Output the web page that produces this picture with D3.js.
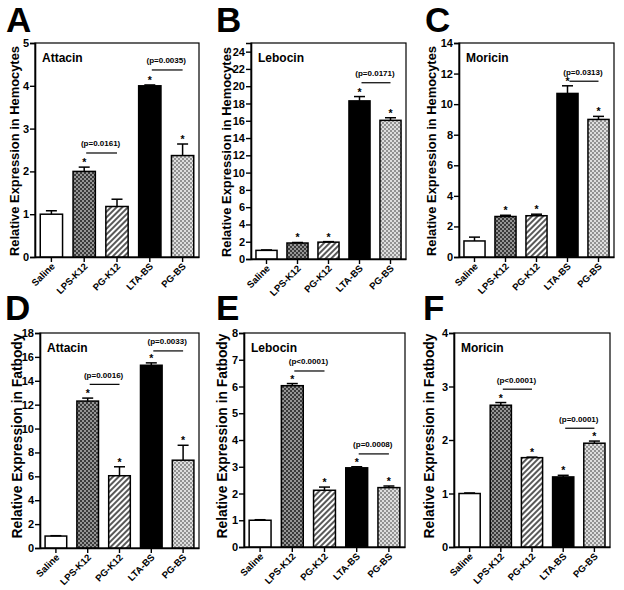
<!DOCTYPE html>
<html><head><meta charset="utf-8">
<script src="https://cdn.jsdelivr.net/npm/d3@7"></script>
<style>
body{margin:0;background:#fff;}
text{font-family:"Liberation Sans",Arial,sans-serif;font-weight:bold;}
</style></head>
<body><svg id="c" width="624" height="590"></svg>
<script>
const categories = ["Saline","LPS-K12","PG-K12","LTA-BS","PG-BS"];

const attacinHemo = [1.0, 2.0, 1.18, 4.0, 2.37];
const attacinHemoErr = [0.08, 0.1, 0.17, 0.02, 0.27];
const lebocinHemo = [1.0, 1.85, 1.95, 18.3, 16.05];
const lebocinHemoErr = [0.05, 0.06, 0.06, 0.5, 0.3];
const moricinHemo = [1.05, 2.65, 2.7, 10.7, 9.0];
const moricinHemoErr = [0.25, 0.08, 0.1, 0.5, 0.2];
const attacinFat = [1.0, 12.3, 6.05, 15.3, 7.35];
const attacinFatErr = [0.03, 0.25, 0.75, 0.2, 1.25];
const lebocinFat = [1.0, 6.03, 2.12, 2.96, 2.22];
const lebocinFatErr = [0.02, 0.08, 0.12, 0.04, 0.06];
const moricinFat = [1.0, 2.65, 1.67, 1.31, 1.94];
const moricinFatErr = [0.01, 0.05, 0.01, 0.03, 0.04];

const starsA = [false,true,false,true,true];
const starsB = [false,true,true,true,true];
const starsC = [false,true,true,true,true];
const starsD = [false,true,true,true,true];
const starsE = [false,true,true,true,true];
const starsF = [false,true,true,true,true];

const bracketsA = [{from:1,to:2,y:2.43,label:"(p=0.0161)"},{from:3,to:4,y:4.37,label:"(p=0.0035)"}];
const bracketsB = [{from:3,to:4,y:20.4,label:"(p=0.0171)"}];
const bracketsC = [{from:3,to:4,y:11.5,label:"(p=0.0313)"}];
const bracketsD = [{from:1,to:2,y:13.7,label:"(p=0.0016)"},{from:3,to:4,y:16.5,label:"(p=0.0033)"}];
const bracketsE = [{from:1,to:2,y:6.58,label:"(p<0.0001)"},{from:3,to:4,y:3.48,label:"(p=0.0008)"}];
const bracketsF = [{from:1,to:2,y:2.95,label:"(p<0.0001)"},{from:3,to:4,y:2.22,label:"(p=0.0001)"}];

const ticksA = [0,1,2,3,4,5];
const ticksB = [0,2,4,6,8,10,12,14,16,18,20,22,24];
const ticksC = [0,2,4,6,8,10,12,14];
const ticksD = [0,2,4,6,8,10,12,14,16,18];
const ticksE = [0,1,2,3,4,5,6,7,8];
const ticksF = [0,1,2,3,4];

const panels = [
  {letter:"A", gene:"Attacin", ytitle:"Relative Expression in Hemocytes", values:attacinHemo, errs:attacinHemoErr, stars:starsA, brackets:bracketsA, ticks:ticksA, max:5,
   box:{l:35,r:199,t:43,b:257}, letterPos:[6,32], titleX:14, titleLen:210, titleFs:13, titleMid:151},
  {letter:"B", gene:"Lebocin", ytitle:"Relative Expression in Hemocytes", values:lebocinHemo, errs:lebocinHemoErr, stars:starsB, brackets:bracketsB, ticks:ticksB, max:25,
   box:{l:251,r:406,t:43,b:259}, letterPos:[216,32], titleX:226, titleLen:210, titleFs:13, titleMid:152},
  {letter:"C", gene:"Moricin", ytitle:"Relative Expression in Hemocytes", values:moricinHemo, errs:moricinHemoErr, stars:starsC, brackets:bracketsC, ticks:ticksC, max:14,
   box:{l:459,r:614,t:43,b:257}, letterPos:[425,32], titleX:431, titleLen:210, titleFs:13, titleMid:151},
  {letter:"D", gene:"Attacin", ytitle:"Relative Expression in Fatbody", values:attacinFat, errs:attacinFatErr, stars:starsD, brackets:bracketsD, ticks:ticksD, max:18,
   box:{l:40,r:199,t:333,b:548}, letterPos:[5,320], titleX:17, titleLen:205, titleFs:13.8, titleMid:436},
  {letter:"E", gene:"Lebocin", ytitle:"Relative Expression in Fatbody", values:lebocinFat, errs:lebocinFatErr, stars:starsE, brackets:bracketsE, ticks:ticksE, max:8,
   box:{l:244,r:405,t:333,b:547}, letterPos:[216,320], titleX:222, titleLen:205, titleFs:13.8, titleMid:436},
  {letter:"F", gene:"Moricin", ytitle:"Relative Expression in Fatbody", values:moricinFat, errs:moricinFatErr, stars:starsF, brackets:bracketsF, ticks:ticksF, max:4,
   box:{l:454,r:610,t:333,b:547}, letterPos:[423,320], titleX:429, titleLen:205, titleFs:13.8, titleMid:436}
];

const svg = d3.select("#c");
const defs = svg.append("defs");

// LPS-K12: dark checker
const p1 = defs.append("pattern").attr("id","pLPS").attr("patternUnits","userSpaceOnUse").attr("width",4).attr("height",4);
p1.append("rect").attr("width",4).attr("height",4).attr("fill","#959595");
p1.append("rect").attr("width",2).attr("height",2).attr("fill","#3a3a3a");
p1.append("rect").attr("x",2).attr("y",2).attr("width",2).attr("height",2).attr("fill","#3a3a3a");
// PG-BS: light checker
const p2 = defs.append("pattern").attr("id","pPGBS").attr("patternUnits","userSpaceOnUse").attr("width",4).attr("height",4);
p2.append("rect").attr("width",4).attr("height",4).attr("fill","#dedede");
p2.append("rect").attr("width",2).attr("height",2).attr("fill","#929292");
p2.append("rect").attr("x",2).attr("y",2).attr("width",2).attr("height",2).attr("fill","#929292");
// PG-K12: diagonal hatch
const p3 = defs.append("pattern").attr("id","pHatch").attr("patternUnits","userSpaceOnUse").attr("width",4).attr("height",4).attr("patternTransform","rotate(45)");
p3.append("rect").attr("width",4).attr("height",4).attr("fill","#fff");
p3.append("line").attr("x1",1).attr("x2",1).attr("y1",0).attr("y2",4).attr("stroke","#000").attr("stroke-width",1.3);

const fills = ["#ffffff","url(#pLPS)","url(#pHatch)","#000000","url(#pPGBS)"];

panels.forEach(p => {
  const b = p.box;
  const x = d3.scaleBand().domain(categories).range([b.l,b.r]).paddingInner(0.32).paddingOuter(0.16);
  const y = d3.scaleLinear().domain([0,p.max]).range([b.b,b.t]);
  const g = svg.append("g");

  // frame
  g.append("rect").attr("x",b.l).attr("y",b.t).attr("width",b.r-b.l).attr("height",b.b-b.t)
    .attr("fill","none").attr("stroke","#000").attr("stroke-width",1.2);

  // bars
  g.selectAll("rect.bar").data(p.values).join("rect").attr("class","bar")
    .attr("x",(d,i)=>x(categories[i])).attr("width",x.bandwidth())
    .attr("y",d=>y(d)).attr("height",d=>y(0)-y(d))
    .attr("fill",(d,i)=>fills[i]).attr("stroke","#000").attr("stroke-width",1.5);

  // error bars (upper only)
  p.values.forEach((v,i)=>{
    const cx = x(categories[i]) + x.bandwidth()/2;
    const top = y(v + p.errs[i]);
    g.append("line").attr("x1",cx).attr("x2",cx).attr("y1",y(v)).attr("y2",top).attr("stroke","#000").attr("stroke-width",1.5);
    g.append("line").attr("x1",cx-5.5).attr("x2",cx+5.5).attr("y1",top).attr("y2",top).attr("stroke","#000").attr("stroke-width",1.5);
    if (p.stars[i]) {
      g.append("text").attr("x",cx).attr("y",top-1).attr("text-anchor","middle").attr("font-size",10.5).text("*");
    }
  });

  // brackets
  p.brackets.forEach(br=>{
    const x1 = x(categories[br.from]) + x.bandwidth()/2;
    const x2 = x(categories[br.to]) + x.bandwidth()/2;
    const yy = y(br.y);
    g.append("line").attr("x1",x1+2).attr("x2",x2).attr("y1",yy).attr("y2",yy).attr("stroke","#000").attr("stroke-width",1.2);
    g.append("text").attr("x",(x1+x2)/2).attr("y",yy-6.5).attr("text-anchor","middle").attr("font-size",8).text(br.label);
  });

  // y axis
  const ya = g.append("g").attr("transform",`translate(${b.l},0)`)
    .call(d3.axisLeft(y).tickValues(p.ticks).tickSize(5).tickPadding(1).tickFormat(d3.format("d")));
  ya.select(".domain").attr("stroke-width",1.6);
  ya.selectAll(".tick line").attr("stroke-width",1.4);
  ya.selectAll(".tick text").attr("font-size",11).attr("font-family",null).attr("fill","#000");

  // x axis
  const xa = g.append("g").attr("transform",`translate(0,${b.b})`)
    .call(d3.axisBottom(x).tickSize(5).tickSizeOuter(0));
  xa.select(".domain").attr("stroke-width",1.6);
  xa.selectAll(".tick line").attr("stroke-width",1.4);
  xa.selectAll(".tick text").attr("font-size",9.5).attr("font-family",null).attr("fill","#000")
    .attr("text-anchor","end").attr("dy",null).attr("y",0)
    .attr("transform","translate(4,10) rotate(-45)");

  // gene label
  g.append("text").attr("x",b.l+7).attr("y",b.t+19).attr("font-size",12).text(p.gene);

  // y title
  g.append("text").attr("transform",`translate(${p.titleX},${p.titleMid}) rotate(-90)`)
    .attr("text-anchor","middle").attr("dominant-baseline","central").attr("font-size",p.titleFs)
    .attr("textLength",p.titleLen).attr("lengthAdjust","spacingAndGlyphs").text(p.ytitle);

  // panel letter
  svg.append("text").attr("x",p.letterPos[0]).attr("y",p.letterPos[1]).attr("font-size",35).text(p.letter);
});
</script>
</body></html>
